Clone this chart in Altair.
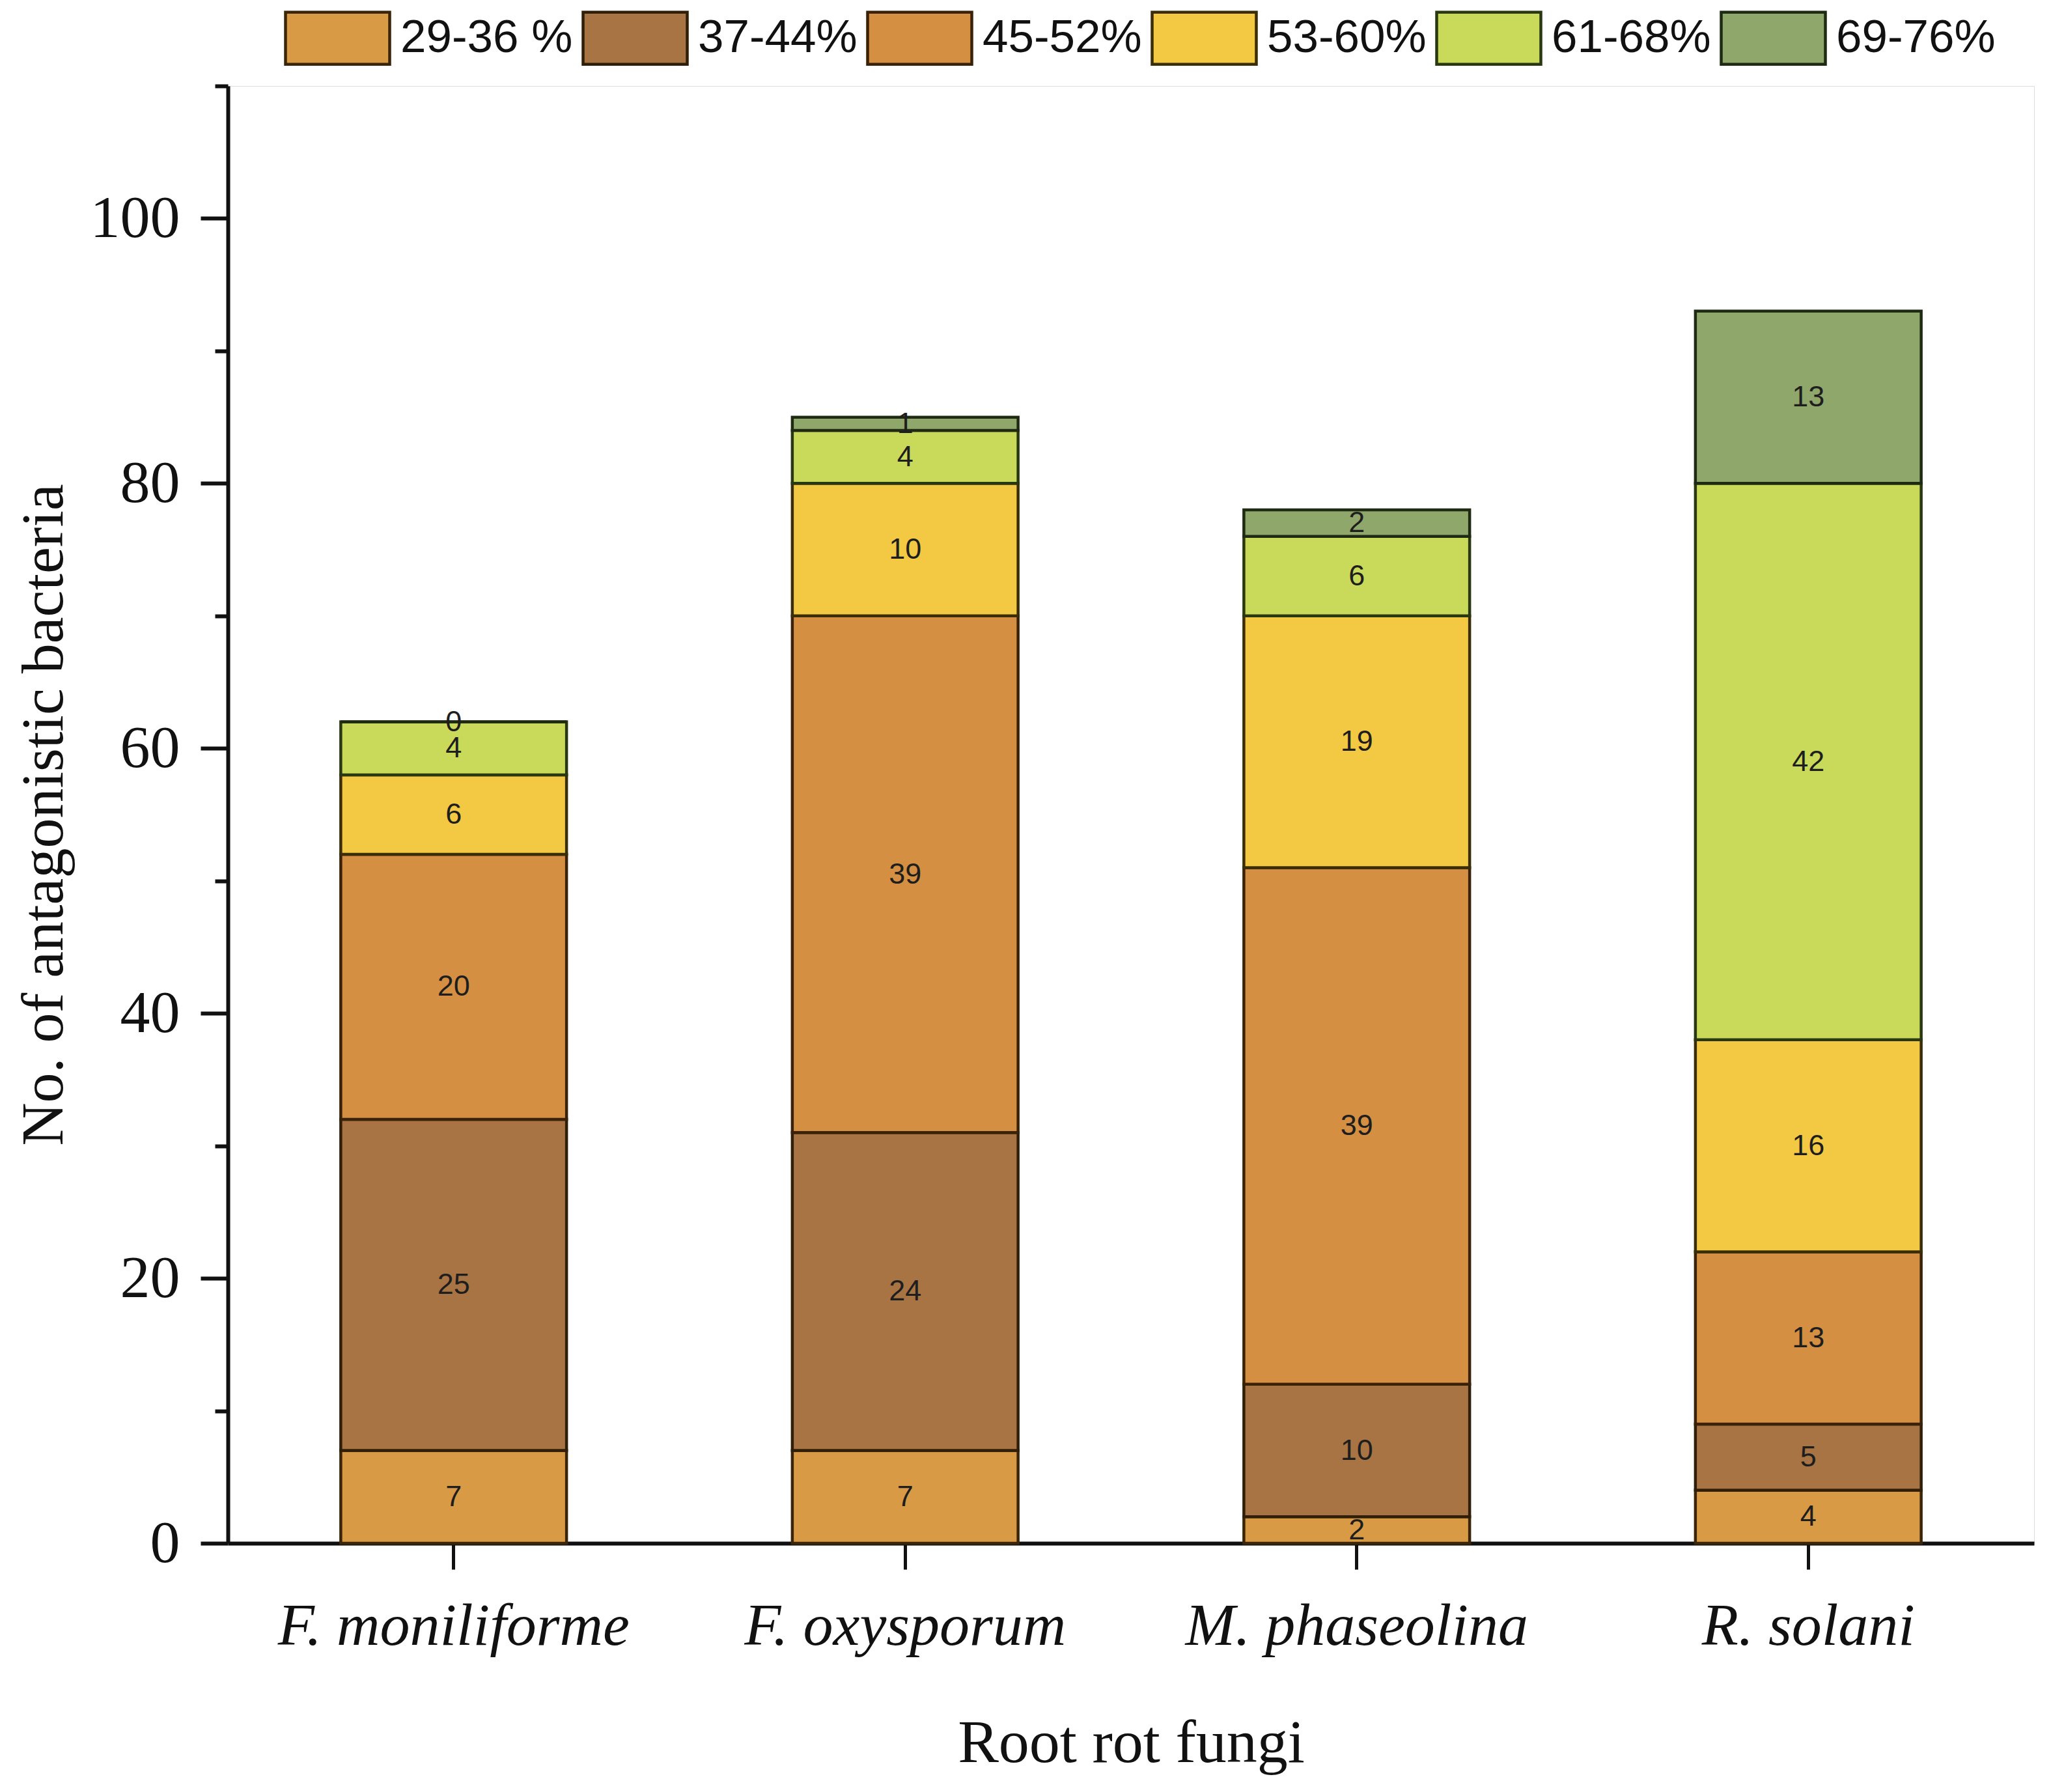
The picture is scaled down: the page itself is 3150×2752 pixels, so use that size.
import altair as alt
import pandas as pd

fungi = ["F. moniliforme", "F. oxysporum", "M. phaseolina", "R. solani"]
classes = ["29-36 %", "37-44%", "45-52%", " 53-60%", "61-68%", "69-76%"]
counts = {
    "F. moniliforme": [7, 25, 20, 6, 4, 0],
    "F. oxysporum":   [7, 24, 39, 10, 4, 1],
    "M. phaseolina":  [2, 10, 39, 19, 6, 2],
    "R. solani":      [4, 5, 13, 16, 42, 13],
}
fill_colors = ["#D99A45", "#A87443", "#D48F42", "#F3C843", "#C9DA5B", "#8FA76A"]
stroke_colors = ["#3a2508", "#301f08", "#3a2208", "#3a2e08", "#2a3812", "#1e2a12"]

rows = []
for f in fungi:
    for i, c in enumerate(classes):
        rows.append({"fungus": f, "cls": c, "order": i, "n": counts[f][i]})
df = pd.DataFrame(rows)

base = alt.Chart(df).transform_stack(
    stack="n", groupby=["fungus"], as_=["y0", "y1"],
    sort=[alt.SortField("order", order="ascending")], offset="zero"
).transform_calculate(mid="(datum.y0 + datum.y1) / 2")

x_enc = alt.X(
    "fungus:N", sort=fungi, title="Root rot fungi",
    scale=alt.Scale(paddingInner=0.5, paddingOuter=0.25),
    axis=alt.Axis(
        labelFont="Liberation Serif", labelFontStyle="italic", labelFontSize=92,
        labelColor="#111", labelPadding=42, labelAngle=0, labelLimit=0,
        tickSize=40, tickWidth=5, tickColor="#111",
        domainWidth=6, domainColor="#111",
        titleFont="Liberation Serif", titleFontSize=94, titleFontWeight="normal",
        titleColor="#111", titlePadding=88,
    ),
)

bars = base.mark_bar(strokeWidth=4.5).encode(
    x=x_enc,
    y=alt.Y(
        "y0:Q", title="No. of antagonistic bacteria",
        scale=alt.Scale(domain=[0, 110], nice=False),
        axis=alt.Axis(
            values=[0, 10, 20, 30, 40, 50, 60, 70, 80, 90, 100, 110],
            labelExpr="datum.value % 20 === 0 ? datum.label : ''",
            tickSize={"expr": "datum.value % 20 === 0 ? 42 : 20"},
            labelFont="Liberation Serif", labelFontSize=92, labelColor="#111",
            labelPadding=32,
            tickWidth=6, tickColor="#111", domainWidth=6, domainColor="#111",
            grid=False,
            titleFont="Liberation Serif", titleFontSize=92, titleFontWeight="normal",
            titleColor="#111", titlePadding=36,
        ),
    ),
    y2="y1:Q",
    color=alt.Color(
        "cls:N", sort=classes,
        scale=alt.Scale(domain=classes, range=fill_colors),
        legend=alt.Legend(
            title=None, orient="none", direction="horizontal", columns=6,
            legendX=86, legendY=-156, padding=0,
            symbolType="M-1,-0.5L1,-0.5L1,0.5L-1,0.5Z", symbolSize=25600,
            symbolStrokeWidth=4.5, symbolOpacity=1,
            labelFont="Liberation Sans", labelFontSize=71, labelColor="#111",
            labelOffset=14, columnPadding=6, labelLimit=400,
        ),
    ),
    stroke=alt.Stroke(
        "cls:N", sort=classes,
        scale=alt.Scale(domain=classes, range=stroke_colors),
        legend=None,
    ),
)

labels = base.mark_text(
    font="Liberation Sans", fontSize=45, color="#1e1e1e", baseline="middle"
).encode(
    x=alt.X("fungus:N", sort=fungi),
    y=alt.Y("mid:Q"),
    text=alt.Text("n:Q"),
)

chart = alt.layer(bars, labels).properties(
    width=2774, height=2238,
    autosize=alt.AutoSizeParams(type="none"),
    padding={"left": 342, "top": 124, "right": 12, "bottom": 360},
).configure_view(stroke=None).configure(background="white")

chart.save("out.html", embed_options={"renderer": "svg", "actions": False})
